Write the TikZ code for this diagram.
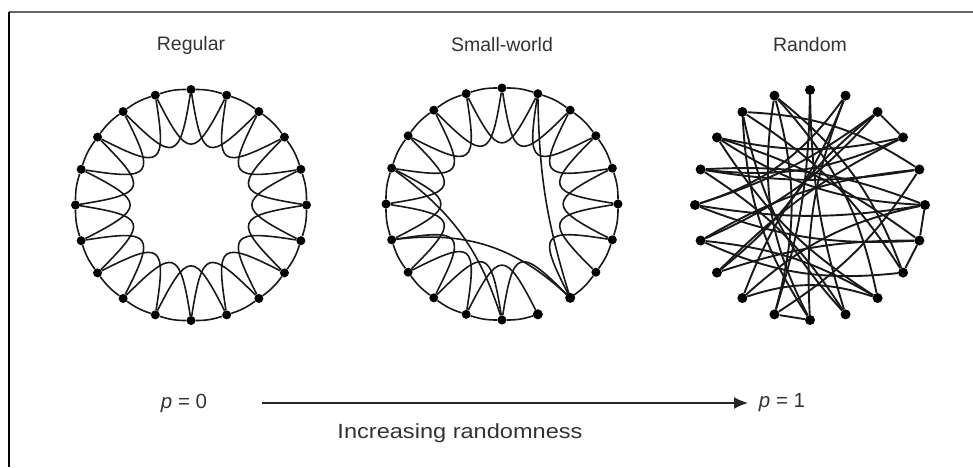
\documentclass[tikz,border=0pt]{standalone}
\usepackage{fontspec}
\setmainfont{Liberation Sans}
\usetikzlibrary{calc,arrows.meta}
\begin{document}
\begin{tikzpicture}[x=1pt,y=1pt,
  dot/.style={circle,fill=black,inner sep=0pt,minimum size=9pt},
  rdot/.style={circle,fill=black,inner sep=0pt,minimum size=10pt},
  edge/.style={line width=1.6pt,black!90},
  redge/.style={line width=1.9pt,black!90},
  title/.style={font=\fontsize{19.5}{22}\selectfont,text=black!80},
  label/.style={font=\fontsize{20.5}{24}\selectfont,text=black!80},
]
\useasboundingbox (0,0) rectangle (973,467);
\draw[line width=1.5pt,black!60] (9,455) -- (973,455);
\draw[line width=1.5pt] (9,455) -- (9,0);

% titles
\node[title] (tR) at (191,422) {Regular};
\node[title] (tS) at (502,422) {Small-world};
\node[title] (tD) at (810,422) {Random};

% ---------- Regular ----------
\coordinate (Rc) at (191,262);
\foreach \i in {0,...,19}{
  \node[dot] (R\i) at ($(Rc)+({90-18*\i}:115.5)$) {};
}
\foreach \i in {0,...,19}{
  \pgfmathtruncatemacro\j{mod(\i+1,20)}
  \pgfmathtruncatemacro\k{mod(\i+2,20)}
  \draw[edge] (R\i) to[bend left=9] (R\j);
  \draw[edge] (R\i) .. controls ($(Rc)+({90-18*\i-14}:46)$) and ($(Rc)+({90-18*\k+14}:46)$) .. (R\k);
}

% ---------- Small-world ----------
\coordinate (Sc) at (502,263);
\foreach \i in {0,...,19}{
  \node[dot] (S\i) at ($(Sc)+({90-18*\i}:116)$) {};
}
\foreach \i in {0,...,19}{
  \pgfmathtruncatemacro\j{mod(\i+1,20)}
  \pgfmathtruncatemacro\k{mod(\i+2,20)}
  \ifnum\i=8 \else \draw[edge] (S\i) to[bend left=9] (S\j); \fi
  \ifnum\i=7 \else \draw[edge] (S\i) .. controls ($(Sc)+({90-18*\i-14}:46.2)$) and ($(Sc)+({90-18*\k+14}:46.2)$) .. (S\k); \fi
}
\draw[edge] (S1) to[bend right=8] (S8);
\draw[edge] (S14) to[bend left=25] (S8);
\draw[edge] (S16) to[bend left=18] (S10);
\node[rdot] at (S8) {};
\node[rdot] at (S9) {};

% ---------- Random ----------
\coordinate (Dc) at (810,262);
\foreach \i in {0,...,19}{
  \node[rdot] (D\i) at ($(Dc)+({90-18*\i}:115)$) {};
}
\foreach \a/\b/\c in {0/11/8, 0/9/-8, 1/13/15, 1/10/-12, 1/15/18, 2/3/0, 2/12/-15, 2/14/12,
  3/13/-9, 3/16/15, 4/14/-12, 4/16/9, 4/18/-15, 5/6/0, 5/16/-12, 5/15/9, 5/17/15,
  6/7/0, 6/17/-9, 6/15/12, 7/18/-12, 7/14/15, 8/19/-15, 8/17/12, 8/12/-18,
  9/18/15, 9/16/-12, 10/11/0, 10/19/18, 11/19/-15, 13/6/9, 17/3/-12, 18/10/-15, 14/8/12, 12/5/15,
  11/4/-12, 19/7/15, 15/2/-9}{
  \draw[redge] (D\a) to[bend left=\c] (D\b);
}

% ---------- bottom ----------
\node[label] (p0) at (184,64) {\textit{p} = 0};
\node[label] (p1) at (782,64) {\textit{p} = 1};
\coordinate (a0) at (262,64);
\coordinate (a1) at (748,64);
\draw[line width=1.7pt,black!85,-{Latex[length=14pt,width=12pt]}] (a0) -- (a1);
\node[label,xscale=1.15] (inc) at (460,34) {Increasing randomness};
\end{tikzpicture}
\end{document}
